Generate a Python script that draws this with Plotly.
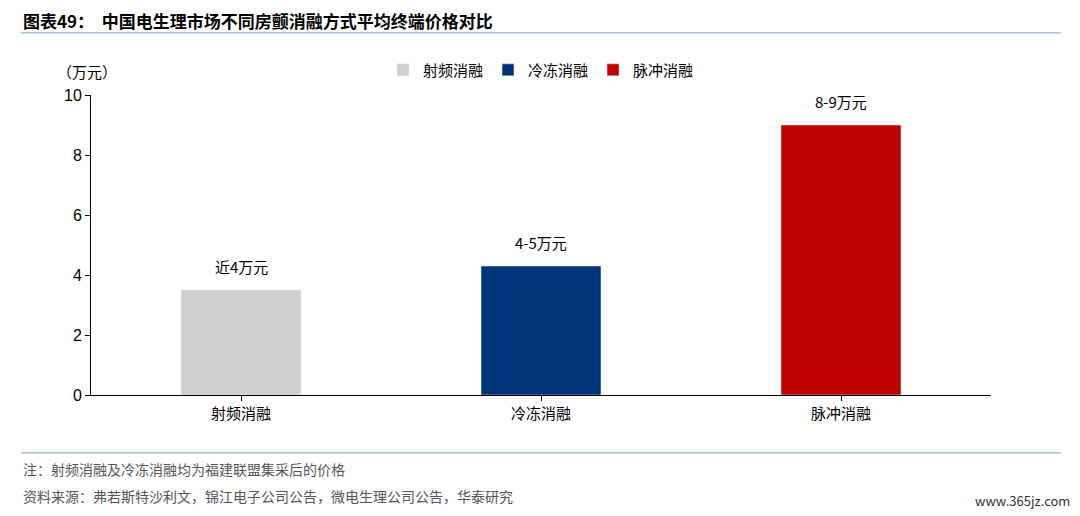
import plotly.graph_objects as go

categories = ["射频消融", "冷冻消融", "脉冲消融"]
values = [3.5, 4.3, 9.0]
labels = ["近4万元", "4-5万元", "8-9万元"]
colors = ["#D0CECE", "#003478", "#C00000"]
yticks = [0, 2, 4, 6, 8, 10]

F = "Noto Sans CJK SC"
fig = go.Figure()
for c, v, col in zip(categories, values, colors):
    fig.add_trace(go.Bar(x=[c], y=[v], name=c, marker_color=col, width=0.4))
ann = [dict(x=c, y=v, text=t, showarrow=False, yshift=24, yanchor="middle",
            font=dict(size=15, color="#000")) for c, v, t in zip(categories, values, labels)]
fig.update_layout(
    width=1080, height=516, barmode="overlay", plot_bgcolor="white", paper_bgcolor="white",
    margin=dict(l=83, r=97, t=87, b=129, autoexpand=False), font=dict(family=F, size=14, color="#000"),
    legend=dict(orientation="h", x=0.5, xanchor="center", y=1.083, yanchor="middle",
                font=dict(size=15), itemwidth=30),
    xaxis=dict(showline=True, linecolor="#000", ticks="outside", ticklen=5, tickcolor="#000",
               tickfont=dict(size=15)),
    yaxis=dict(range=[0, 10], tickvals=yticks, showline=True, linecolor="#000", ticks="outside",
               ticklen=5, tickcolor="#000", showgrid=False, tickfont=dict(size=16, family="Liberation Sans")),
    shapes=[
        dict(type="line", xref="paper", yref="paper", x0=-0.078, x1=1.078, y0=1.207, y1=1.207,
             line=dict(color="#7F9FC8", width=1)),
        dict(type="line", xref="paper", yref="paper", x0=-0.078, x1=1.078, y0=-0.193, y1=-0.193,
             line=dict(color="#7F9FC8", width=1)),
    ],
    annotations=ann + [
        dict(text="<b>图表49：  中国电生理市场不同房颤消融方式平均终端价格对比</b>", xref="paper", yref="paper",
             x=-0.078, y=1.25, xanchor="left", yanchor="middle", showarrow=False, font=dict(size=17)),
        dict(text="（万元）", xref="paper", yref="paper", x=-0.04, y=1.077, xanchor="left",
             yanchor="middle", showarrow=False, font=dict(size=15)),
        dict(text="注：射频消融及冷冻消融均为福建联盟集采后的价格", xref="paper", yref="paper",
             x=-0.078, y=-0.247, xanchor="left", yanchor="middle", showarrow=False,
             font=dict(size=14, color="#555")),
        dict(text="资料来源：弗若斯特沙利文，锦江电子公司公告，微电生理公司公告，华泰研究", xref="paper", yref="paper",
             x=-0.078, y=-0.337, xanchor="left", yanchor="middle", showarrow=False,
             font=dict(size=14, color="#555")),
        dict(text="www.365jz.com", xref="paper", yref="paper", x=1.09, y=-0.35, xanchor="right",
             yanchor="middle", showarrow=False, font=dict(size=13, color="#333")),
    ],
)
fig.write_html("out.html")
